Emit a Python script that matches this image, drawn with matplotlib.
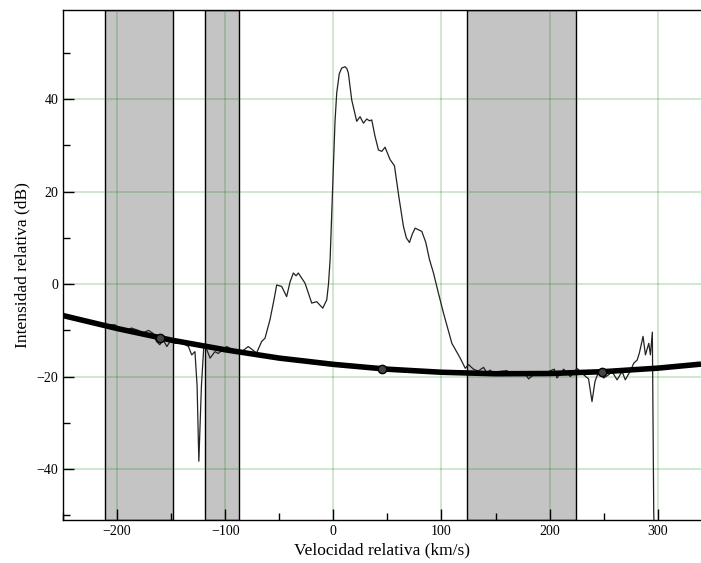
import numpy as np
import matplotlib
matplotlib.use("Agg")
import matplotlib.pyplot as plt
from matplotlib.ticker import MultipleLocator

plt.rcParams['font.family'] = ['Liberation Serif', 'DejaVu Serif']

# spectrum (relative velocity km/s, relative intensity dB)
vel = [-211, -202, -197.5, -193, -186.7, -180.5, -176, -171, -167, -163.6, -160.5,
       -157.4, -154, -151, -146.6, -139, -134, -131, -128, -126, -124.4, -122,
       -119.7, -117, -114, -109.5, -106.5, -98.7, -92.6, -87, -78.7, -71, -66.3,
       -63.2, -58.6, -55, -52.4, -47.8, -43.2, -40, -37, -34.5, -32.4, -26.2, -20,
       -15.4, -9.8, -6.1, -4.5, -3, -1.5, 0, 1.5, 3.1, 5.5, 7.7, 10.8, 12.5, 13.9,
       17, 21.6, 24.7, 27.8, 30.9, 33.5, 35.5, 38.5, 41.7, 44.8, 47.8, 52.5, 56.5,
       60.5, 64.8, 67.5, 70.4, 73, 75.6, 81.8, 85.5, 88.9, 92.6, 97, 101.9, 109.6,
       117.3, 122, 125, 129.6, 134, 138.9, 142, 145, 148, 153, 160.5, 165, 170,
       175.9, 180.6, 186, 191.4, 197, 204.3, 206.8, 213, 219.2, 225.3, 231.5, 236,
       239.2, 242, 245.4, 250, 254.6, 257.7, 262.4, 267, 270, 275, 277.8, 281, 283,
       286.4, 288.6, 291.7, 293.2, 295, 296.3, 297.5]
inten = [-8.8, -8.8, -9.5, -10.2, -9.5, -10, -10.6, -10, -10.6, -12.4, -13.1,
         -12, -13.5, -12.4, -12.8, -12.8, -13.5, -15.3, -14.6, -22, -38.3, -22,
         -13.1, -14.2, -16, -14.6, -15, -13.5, -14.2, -15, -13.5, -14.9, -12.4,
         -11.7, -7.7, -3.5, -0.2, -0.5, -2.7, 0.5, 2.4, 1.8, 2.4, 0.2, -4.1,
         -3.8, -5.2, -3.4, 0, 5.3, 15, 25, 35, 41.3, 45.5, 46.7, 47, 46.6, 45.6,
         39.8, 35.2, 36.2, 34.8, 35.7, 35.3, 35.5, 32, 29, 28.7, 29.6, 26.9, 25.6,
         19, 12.5, 10, 9, 10.8, 12.1, 11.4, 9, 5.3, 2.4, -1.8, -6.3, -12.8,
         -16, -18.2, -17.4, -18.4, -18.8, -18, -19.2, -18.6, -19.3, -18.9, -18.7, -19.6,
         -19.2, -18.9, -20.5, -19.4, -19.6, -19.1, -18.4, -20.3, -18.4, -20, -18.2, -19.6,
         -20.5, -25.4, -21, -18.9, -20.3, -19.6, -18.9, -20.7, -18.9, -20.7, -18.6, -17.1,
         -16.4, -14.9, -11.3, -15.3, -12.8, -15.3, -10.4, -49.5, -60]

# fitted baseline
base_vel = [-250, -200, -150, -100, -50, 0, 50, 100, 150, 200, 250, 300, 340]
base_int = [-6.8, -9.6, -12.1, -14.2, -16.0, -17.35, -18.4, -19.06, -19.38,
            -19.33, -18.93, -18.17, -17.3]

# points used for the fit
fit_vel = [-160, 45, 248]
fit_int = [-11.6, -18.3, -18.95]

# baseline windows
windows = [(-211, -148), (-118.5, -87), (124, 224)]

fig = plt.figure(figsize=(7.01, 5.63), dpi=100)
ax = fig.add_axes([0.0899, 0.0764, 0.9101, 0.9053])

for lo, hi in windows:
    ax.axvspan(lo, hi, facecolor='#c4c4c4', edgecolor='black', lw=1.0, zorder=1)

ax.grid(True, which='major', color='#008000', alpha=0.22, lw=1.2, zorder=2)
ax.set_axisbelow(False)

ax.plot(vel, inten, color='#222222', lw=0.9, zorder=3)
ax.plot(base_vel, base_int, color='black', lw=4, solid_capstyle='butt', zorder=4)
ax.plot(fit_vel, fit_int, 'o', ms=6, mfc='#444444', mec='black', mew=1.0, zorder=5)

ax.set_xlim(-250, 340)
ax.set_ylim(-51, 59.2)
ax.xaxis.set_major_locator(MultipleLocator(100))
ax.xaxis.set_minor_locator(MultipleLocator(50))
ax.yaxis.set_major_locator(MultipleLocator(20))
ax.yaxis.set_minor_locator(MultipleLocator(10))
ax.tick_params(which='both', direction='in', top=False, right=False, labelsize=10)
ax.tick_params(which='major', length=8, width=1)
ax.tick_params(which='minor', length=5, width=1)
ax.spines['right'].set_visible(False)
for s in ['left', 'bottom', 'top']:
    ax.spines[s].set_linewidth(1.0)

ax.set_xlabel('Velocidad relativa (km/s)', fontsize=12.5, labelpad=3)
ax.set_ylabel('Intensidad relativa (dB)', fontsize=12.5, labelpad=4)

fig.savefig('out.png', dpi=100)
